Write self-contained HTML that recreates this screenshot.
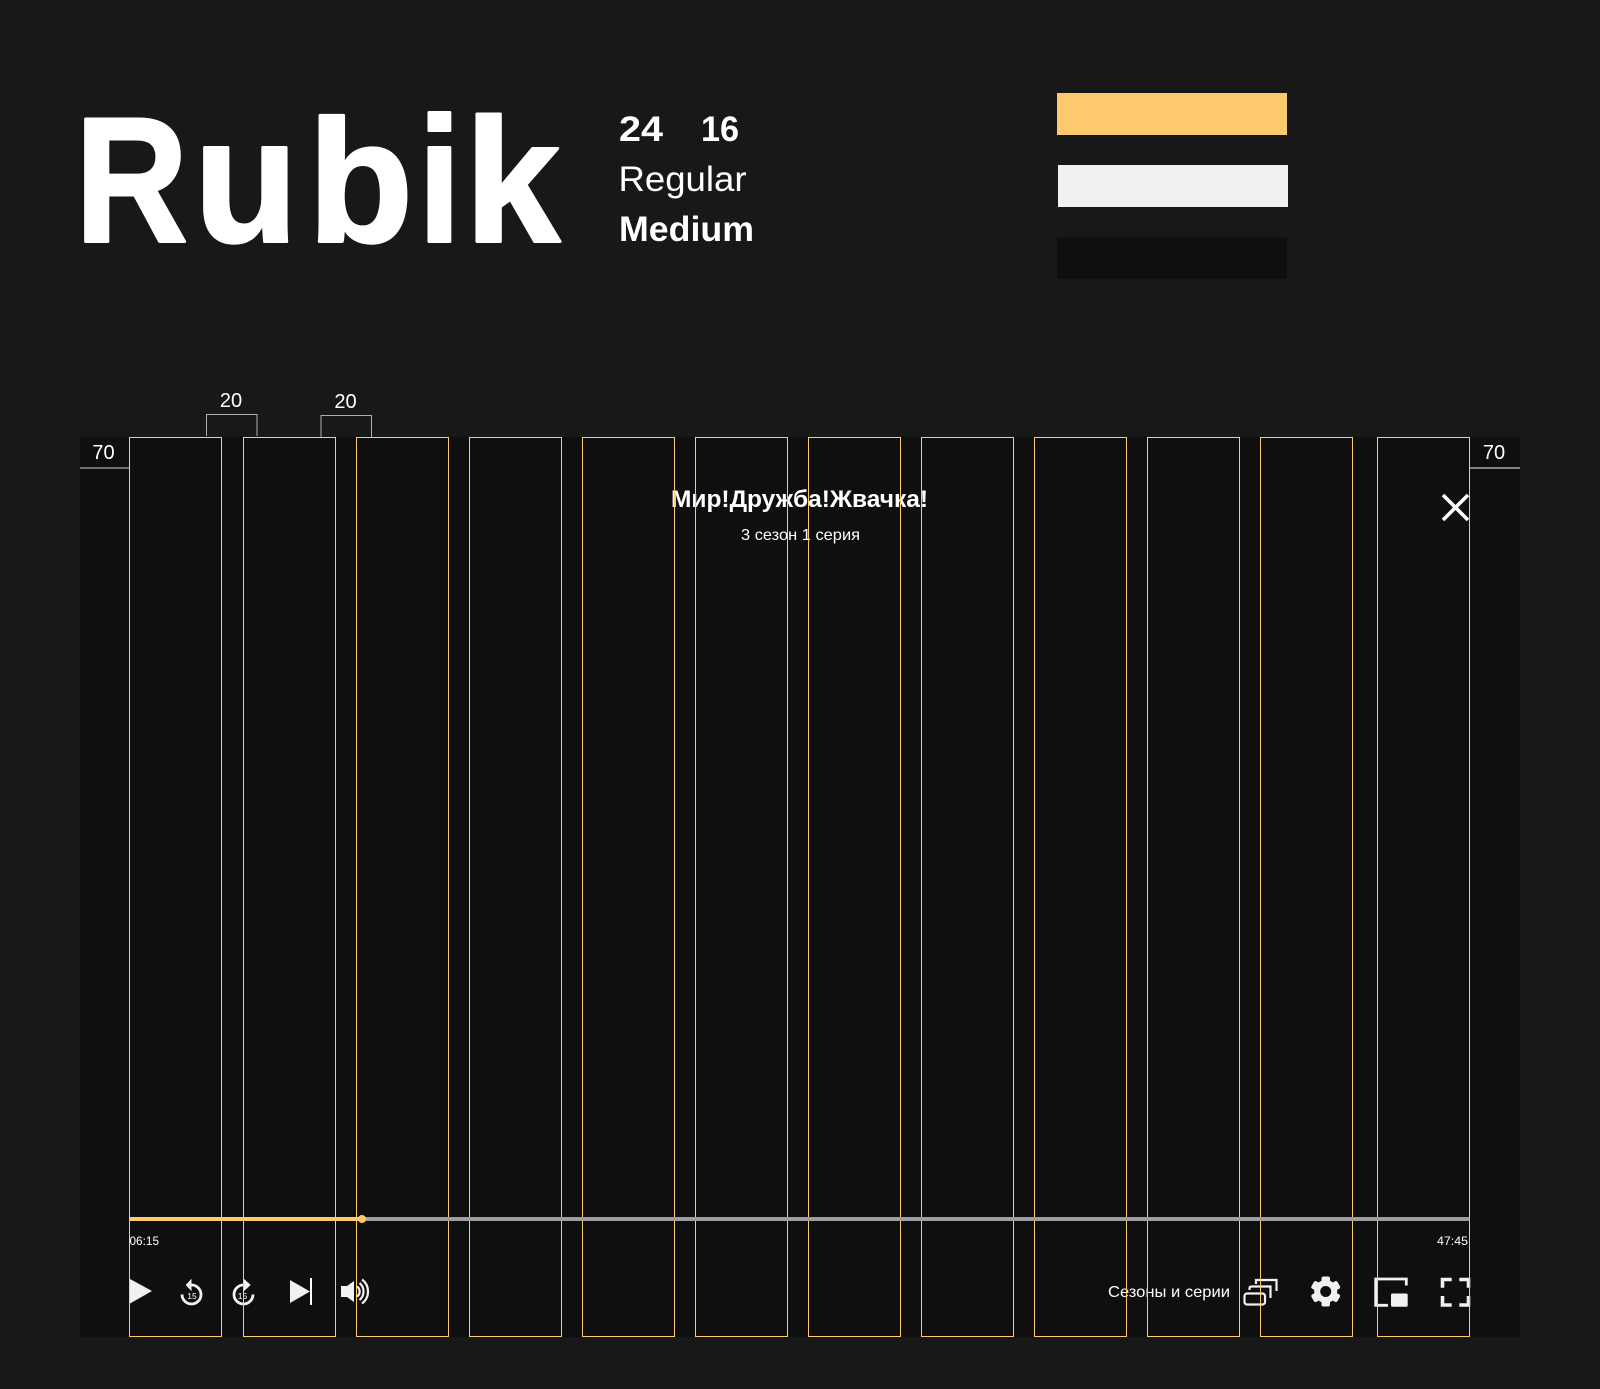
<!DOCTYPE html>
<html><head><meta charset="utf-8"><style>
html,body{margin:0;padding:0;background:#181818}
svg{display:block}
text{font-family:"Liberation Sans",sans-serif;fill:#fff}
</style></head><body>
<svg width="1600" height="1389" viewBox="0 0 1600 1389" xmlns="http://www.w3.org/2000/svg">
<rect width="1600" height="1389" fill="#181818"/>

<!-- Rubik title -->
<g font-weight="700" stroke="#fff" stroke-width="3" stroke-linejoin="round">
<text x="75" y="241.5" font-size="178" textLength="113" lengthAdjust="spacingAndGlyphs">R</text>
<text x="194" y="241.5" font-size="178" textLength="104" lengthAdjust="spacingAndGlyphs">u</text>
<text x="308" y="241.5" font-size="174" textLength="105" lengthAdjust="spacingAndGlyphs">b</text>
<text x="418" y="241.5" font-size="178" textLength="43" lengthAdjust="spacingAndGlyphs">i</text>
<text x="465" y="241.5" font-size="176" textLength="95" lengthAdjust="spacingAndGlyphs">k</text>
</g>
<g font-size="35">
<text x="619" y="141" font-weight="700" textLength="44" lengthAdjust="spacingAndGlyphs">24</text>
<text x="701" y="141" font-weight="700" textLength="38" lengthAdjust="spacingAndGlyphs">16</text>
<text x="618.5" y="191" textLength="128" lengthAdjust="spacingAndGlyphs" fill="#f4f4f4">Regular</text>
<text x="619" y="241" font-weight="700" textLength="135" lengthAdjust="spacingAndGlyphs">Medium</text>
</g>

<!-- swatches -->
<rect x="1057" y="93" width="230" height="42" fill="#FDCB6E"/>
<rect x="1058" y="165" width="230" height="42" fill="#F1F1F1"/>
<rect x="1057" y="237" width="230" height="42" fill="#0F0F0F"/>

<!-- dimensions -->
<path d="M206.5 436V414.5H257V436" fill="none" stroke="#b0b0b0" stroke-width="1"/>
<path d="M321 437V415.5H371.5V437" fill="none" stroke="#b0b0b0" stroke-width="1"/>
<g font-size="20" text-anchor="middle">
<text x="231" y="407" fill="#ddd">20</text>
<text x="345.5" y="408" fill="#ddd">20</text>
</g>

<!-- panel -->
<rect x="80" y="437" width="1440" height="900" fill="#0F0F0F"/>
<g font-size="20" text-anchor="middle">
<text x="103.5" y="459" fill="#ddd">70</text>
<text x="1494" y="459" fill="#ddd">70</text>
</g>
<rect x="80" y="467" width="50" height="2" fill="#707070"/>
<rect x="1470" y="467" width="50" height="2" fill="#808080"/>

<!-- title text -->
<text x="671" y="507" font-size="24" font-weight="700" textLength="257" lengthAdjust="spacingAndGlyphs">Мир!Дружба!Жвачка!</text>
<text x="741" y="540" font-size="16" textLength="119" lengthAdjust="spacingAndGlyphs" fill="#e8e8e8">3 сезон 1 серия</text>

<!-- close -->
<path d="M1443 495L1468 520M1468 495L1443 520" stroke="#fff" stroke-width="3.6" fill="none"/>

<!-- times -->
<text x="129.5" y="1245" font-size="12" textLength="29.5" lengthAdjust="spacingAndGlyphs" fill="#e8e8e8">06:15</text>
<text x="1437" y="1245" font-size="12" textLength="31" lengthAdjust="spacingAndGlyphs" fill="#e8e8e8">47:45</text>

<!-- player icons left -->
<path d="M130 1279L152 1291L130 1303.5Z" fill="#F1F1F1"/>
<g fill="none" stroke="#F1F1F1" stroke-width="2.8">
<path d="M191 1285A9.5 9.5 0 1 1 182 1294.5"/>
<path d="M244 1285A9.5 9.5 0 1 0 253 1294.5"/>
</g>
<path d="M185.7 1285L191.5 1278.7V1291.3Z" fill="#F1F1F1"/>
<path d="M250.7 1285L243.8 1278.7V1291.3Z" fill="#F1F1F1"/>
<text x="192" y="1299" font-size="8.5" text-anchor="middle" fill="#999">15</text>
<text x="242.5" y="1299" font-size="8.5" text-anchor="middle" fill="#999">15</text>
<path d="M290 1280L310 1291.5L290 1303Z" fill="#F1F1F1"/>
<rect x="310" y="1278" width="2" height="27" fill="#fff"/>
<path d="M341 1286H347L354 1281V1302L347 1297H341Z" fill="#F1F1F1"/>
<g fill="none" stroke="#F1F1F1" stroke-width="2.2">
<path d="M357 1286.5A6 6 0 0 1 357 1296.5"/>
<path d="M359.5 1283A11 11 0 0 1 359.5 1300"/>
<path d="M362 1279.5A15 15 0 0 1 362 1303.5"/>
</g>

<!-- player icons right -->
<text x="1108" y="1297" font-size="16" textLength="122" lengthAdjust="spacingAndGlyphs" fill="#ddd">Сезоны и серии</text>
<rect x="1244.5" y="1293.5" width="20.5" height="11" rx="2.5" fill="none" stroke="#F1F1F1" stroke-width="2.2"/>
<path d="M1249.5 1290V1288.5Q1249.5 1286.5 1251.5 1286.5H1270.5V1298" fill="none" stroke="#F1F1F1" stroke-width="2.2"/>
<path d="M1256 1284V1280H1276.5V1291" fill="none" stroke="#F1F1F1" stroke-width="2.2"/>
<g fill="#F1F1F1">
<rect x="1321.5" y="1276.5" width="8.5" height="30" rx="2"/>
<rect x="1321.5" y="1276.5" width="8.5" height="30" rx="2" transform="rotate(60 1325.7 1291.5)"/>
<rect x="1321.5" y="1276.5" width="8.5" height="30" rx="2" transform="rotate(120 1325.7 1291.5)"/>
<circle cx="1325.7" cy="1291.5" r="11.5"/>
</g>
<circle cx="1325.7" cy="1291.5" r="5.5" fill="#0F0F0F"/>
<path d="M1388 1305.3H1375.7V1279H1406.3V1285.5" fill="none" stroke="#F1F1F1" stroke-width="2.8"/>
<rect x="1391" y="1293.5" width="16.7" height="13.2" rx="1.5" fill="#F1F1F1"/>
<g fill="none" stroke="#F1F1F1" stroke-width="3.6">
<path d="M1442.5 1287.7V1279.5H1451.7"/>
<path d="M1459.3 1279.5H1468.5V1287.7"/>
<path d="M1442.5 1296V1305H1451.7"/>
<path d="M1459.3 1305H1468.5V1296"/>
</g>

<!-- grid -->
<g fill="none" stroke="#FDCB6E" stroke-width="1">
<rect x="129.5" y="437.5" width="92" height="899"/>
<rect x="243.5" y="437.5" width="92" height="899"/>
<rect x="356.5" y="437.5" width="92" height="899"/>
<rect x="469.5" y="437.5" width="92" height="899"/>
<rect x="582.5" y="437.5" width="92" height="899"/>
<rect x="695.5" y="437.5" width="92" height="899"/>
<rect x="808.5" y="437.5" width="92" height="899"/>
<rect x="921.5" y="437.5" width="92" height="899"/>
<rect x="1034.5" y="437.5" width="92" height="899"/>
<rect x="1147.5" y="437.5" width="92" height="899"/>
<rect x="1260.5" y="437.5" width="92" height="899"/>
<rect x="1377.5" y="437.5" width="92" height="899"/>
</g>

<!-- progress -->
<rect x="129.5" y="1217" width="1340" height="4" fill="#9E9E9E"/>
<rect x="129.5" y="1217" width="233" height="4" fill="#FDCB6E"/>
<circle cx="362" cy="1219" r="4" fill="#FDCB6E"/>
</svg>
</body></html>
